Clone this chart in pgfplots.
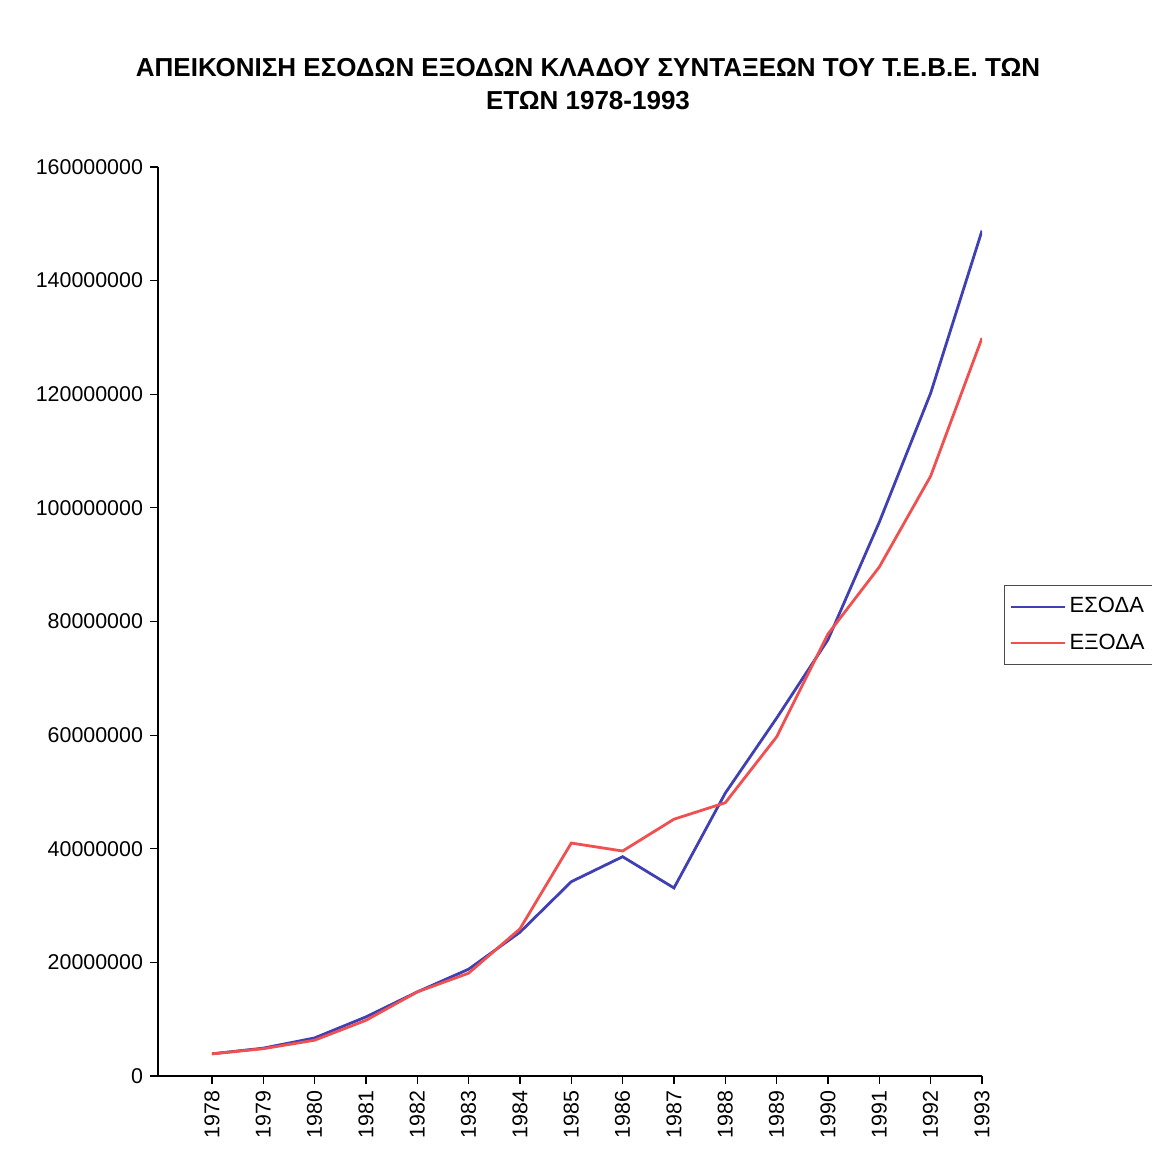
\documentclass[border=0pt]{standalone}
\usepackage{pgfplots}
\pgfplotsset{compat=1.18}
\usepackage{fontspec}
\setmainfont{Liberation Sans}
\definecolor{incblue}{RGB}{64,64,180}
\definecolor{expred}{RGB}{240,80,80}
\begin{document}
\begin{tikzpicture}
\useasboundingbox (-79pt,-42pt) rectangle (496.5pt,538pt);
\begin{axis}[
  at={(0pt,0pt)}, anchor=south west,
  scale only axis, width=412pt, height=454.5pt,
  xmin=1976.95, xmax=1993, ymin=0, ymax=160000000,
  axis x line*=bottom, axis y line*=left,
  axis line style={black, line width=0.6pt, -},
  tick style={black, line width=0.6pt},
  tick align=outside, major tick length=4pt,
  xtick={1978,...,1993},
  ytick={0,20000000,40000000,60000000,80000000,100000000,120000000,140000000,160000000},
  scaled y ticks=false,
  /pgf/number format/assume math mode=true,
  yticklabel style={/pgf/number format/fixed, /pgf/number format/1000 sep={}, font=\fontsize{10.7}{12}\selectfont},
  xticklabel style={/pgf/number format/1000 sep={}, rotate=90, anchor=east, font=\fontsize{10.7}{12}\selectfont},
  legend style={at={(1.0267,0.540)}, anchor=north west, draw=black!70, font=\fontsize{11}{12}\selectfont, inner xsep=2.5pt, inner ysep=4pt, row sep=5pt},
  legend cell align=left,
  legend image code/.code={\draw[#1, line width=1.1pt] (0pt,0pt) -- (27pt,0pt);},
]
\addplot[incblue, line width=1.4pt] coordinates {
(1978,3.9e6) (1979,4.9e6) (1980,6.7e6) (1981,10.4e6) (1982,14.8e6) (1983,18.8e6)
(1984,25.3e6) (1985,34.2e6) (1986,38.6e6) (1987,33.1e6) (1988,49.8e6) (1989,63.0e6)
(1990,76.8e6) (1991,97.5e6) (1992,120.2e6) (1993,148.8e6)};
\addlegendentry{ΕΣΟΔΑ}
\addplot[expred, line width=1.4pt] coordinates {
(1978,3.9e6) (1979,4.8e6) (1980,6.3e6) (1981,9.8e6) (1982,14.8e6) (1983,18.1e6)
(1984,25.9e6) (1985,41.0e6) (1986,39.6e6) (1987,45.2e6) (1988,48.1e6) (1989,59.7e6)
(1990,77.8e6) (1991,89.6e6) (1992,105.6e6) (1993,129.9e6)};
\addlegendentry{ΕΞΟΔΑ}
\end{axis}
\node[align=center, font=\bfseries\fontsize{13}{16.5}\selectfont] at (215pt,496pt)
  {ΑΠΕΙΚΟΝΙΣΗ ΕΣΟΔΩΝ ΕΞΟΔΩΝ ΚΛΑΔΟΥ ΣΥΝΤΑΞΕΩΝ ΤΟΥ Τ.Ε.Β.Ε. ΤΩΝ\\ ΕΤΩΝ 1978-1993};
\end{tikzpicture}
\end{document}
